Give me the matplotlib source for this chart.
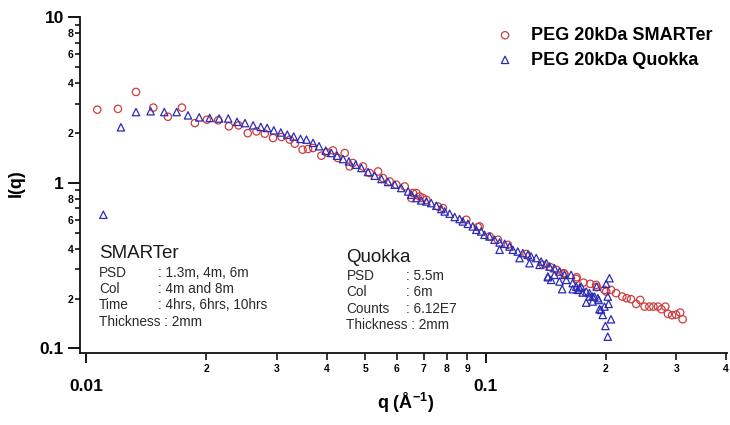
import numpy as np
import matplotlib
matplotlib.use("Agg")
import matplotlib.pyplot as plt
from matplotlib.ticker import LogLocator, FuncFormatter, FixedLocator

plt.rcParams['font.family'] = ['Liberation Sans', 'DejaVu Sans']
plt.rcParams['mathtext.fontset'] = 'custom'
plt.rcParams['mathtext.rm'] = 'Liberation Sans'
plt.rcParams['mathtext.bf'] = 'Liberation Sans:bold'

# ---- data ----
q_smarter = [0.01067, 0.01202, 0.01334, 0.01474, 0.01603, 0.01738, 0.01873, 0.02007,
             0.02142, 0.02278, 0.02409, 0.0254, 0.02671, 0.02802, 0.02939, 0.03085,
             0.03236, 0.03331, 0.03483, 0.03595, 0.0370, 0.03882, 0.0400, 0.0415,
             0.04266, 0.04442, 0.04571, 0.04656, 0.04932, 0.05129, 0.05383, 0.05534,
             0.05754, 0.0598, 0.06274, 0.0652, 0.0658, 0.0671, 0.0684, 0.0697, 0.0711,
             0.0760, 0.0782, 0.0895, 0.0957, 0.0966, 0.1023, 0.1074, 0.1137, 0.1265,
             0.139, 0.1452, 0.1507, 0.1567, 0.1576, 0.1686, 0.169, 0.1758, 0.1828,
             0.1891, 0.1897, 0.1984, 0.2004, 0.206, 0.2122, 0.2198, 0.2255, 0.2312,
             0.2382, 0.2438, 0.250, 0.257, 0.263, 0.270, 0.2754, 0.2818, 0.286, 0.293,
             0.2997, 0.307, 0.3113]
i_smarter = [2.76, 2.79, 3.53, 2.84, 2.50, 2.84, 2.29, 2.40,
             2.38, 2.19, 2.22, 1.99, 2.04, 1.977, 1.862, 1.888,
             1.82, 1.721, 1.582, 1.598, 1.62, 1.456, 1.524, 1.567,
             1.41, 1.511, 1.254, 1.315, 1.254, 1.144, 1.17, 1.067,
             1.018, 0.973, 0.950, 0.808, 0.867, 0.867, 0.826, 0.808, 0.789,
             0.719, 0.703, 0.598, 0.540, 0.545, 0.474, 0.453, 0.422, 0.372,
             0.3195, 0.3096, 0.298, 0.2848, 0.2817, 0.263, 0.269, 0.2497, 0.2453,
             0.242, 0.2343, 0.2257, 0.2205, 0.2257, 0.2157, 0.2056, 0.2011, 0.1983,
             0.1857, 0.1963, 0.1789, 0.1789, 0.1789, 0.1789, 0.1725, 0.1789, 0.1616, 0.1587,
             0.160, 0.1646, 0.150]

q_quokka = [0.01105, 0.01223, 0.01334, 0.01451, 0.0157, 0.01686, 0.0180, 0.0192,
            0.0204, 0.02154, 0.0227, 0.02388, 0.0250, 0.0262, 0.02738, 0.0284,
            0.02951, 0.03073, 0.0319, 0.0331, 0.03442, 0.03563, 0.0370, 0.0383,
            0.0398, 0.0411, 0.0425, 0.0440, 0.0455, 0.0473, 0.0489, 0.0508,
            0.0528, 0.0549, 0.0570, 0.05925, 0.0615, 0.0640, 0.0652, 0.0671,
            0.0690, 0.0711, 0.0731, 0.0753, 0.0775, 0.0790, 0.0813, 0.0837,
            0.0861, 0.0877, 0.0903, 0.0929, 0.0948, 0.0975, 0.0994, 0.1023,
            0.1053, 0.1084, 0.1084, 0.1116, 0.1148, 0.1170, 0.1204, 0.1216, 0.1239,
            0.1276, 0.1288, 0.130, 0.1339, 0.1365, 0.1377, 0.1419, 0.1432, 0.1432,
            0.1445, 0.1459, 0.1487, 0.1487, 0.1531, 0.1531, 0.1555, 0.1576, 0.1592,
            0.1637, 0.1652, 0.1652, 0.1686, 0.1701, 0.1718, 0.1735, 0.175, 0.1786,
            0.1786, 0.182, 0.182, 0.1854, 0.1854, 0.1873, 0.1897, 0.191, 0.1919,
            0.1928, 0.1945, 0.1964, 0.1984, 0.1995, 0.2004, 0.2022, 0.2022, 0.2032,
            0.2042, 0.206]
i_quokka = [0.641, 2.16, 2.67, 2.70, 2.67, 2.67, 2.55, 2.48,
            2.46, 2.44, 2.44, 2.33, 2.29, 2.22, 2.17, 2.14,
            2.07, 2.01, 1.95, 1.90, 1.84, 1.82, 1.74, 1.66,
            1.56, 1.512, 1.456, 1.39, 1.345, 1.285, 1.227, 1.16,
            1.102, 1.053, 1.01, 0.973, 0.929, 0.886, 0.846, 0.808,
            0.782, 0.771, 0.754, 0.726, 0.694, 0.671, 0.650, 0.621,
            0.604, 0.584, 0.565, 0.545, 0.520, 0.508, 0.485, 0.474,
            0.453, 0.436, 0.394, 0.428, 0.412, 0.394, 0.3845, 0.351, 0.376,
            0.367, 0.327, 0.359, 0.351, 0.3195, 0.3345, 0.327, 0.269, 0.272,
            0.312, 0.2594, 0.305, 0.278, 0.291, 0.2534, 0.228, 0.278, 0.2594,
            0.278, 0.228, 0.2477, 0.236, 0.2257, 0.231, 0.236, 0.2175, 0.189,
            0.2205, 0.2056, 0.2157, 0.192, 0.2056, 0.2056, 0.236, 0.2011, 0.196,
            0.1725, 0.171, 0.1594, 0.1789, 0.1367, 0.2453, 0.2056, 0.1178, 0.1857,
            0.2655, 0.150]

series_labels = ['PEG 20kDa SMARTer', 'PEG 20kDa Quokka']

W, H = 730, 425
fig = plt.figure(figsize=(W / 100, H / 100), dpi=100)

def fx(px):
    return px / W

def fy(py):
    return 1 - py / H

ax = fig.add_axes([fx(80), fy(353), fx(727) - fx(80), fy(17) - fy(353)])

red = '#cc3d3d'
blue = '#2b2bb5'
ax.scatter(q_smarter, i_smarter, marker='o', s=28, facecolors='none',
           edgecolors=red, linewidths=0.9, label=series_labels[0], zorder=3)
ax.scatter(q_quokka, i_quokka, marker='^', s=28, facecolors='none',
           edgecolors=blue, linewidths=0.9, label=series_labels[1], zorder=4)

ax.set_xscale('log')
ax.set_yscale('log')
ax.set_xlim(0.00966, 0.402)
ax.set_ylim(0.0939, 10.0)

for s in ['top', 'right']:
    ax.spines[s].set_visible(False)
for s in ['left', 'bottom']:
    ax.spines[s].set_linewidth(1.3)
    ax.spines[s].set_color('#111111')

ax.xaxis.set_major_locator(FixedLocator([0.01, 0.1]))
ax.yaxis.set_major_locator(FixedLocator([0.1, 1, 10]))
ax.xaxis.set_minor_locator(LogLocator(base=10, subs=np.arange(2, 10)))
ax.yaxis.set_minor_locator(LogLocator(base=10, subs=np.arange(2, 10)))

maj_fmt = FuncFormatter(lambda v, p: f'{v:g}')

def mant(v):
    e = np.floor(np.log10(v) + 1e-9)
    return int(round(v / 10 ** e))

x_minor_fmt = FuncFormatter(lambda v, p: str(mant(v)))
y_minor_fmt = FuncFormatter(lambda v, p: str(mant(v)) if mant(v) in (2, 4, 6, 8) else '')
ax.xaxis.set_major_formatter(maj_fmt)
ax.yaxis.set_major_formatter(maj_fmt)
ax.xaxis.set_minor_formatter(x_minor_fmt)
ax.yaxis.set_minor_formatter(y_minor_fmt)

ax.tick_params(axis='x', which='major', direction='out', length=7.5, width=1.3,
               pad=11.5, labelsize=12.5)
ax.tick_params(axis='x', which='minor', direction='out', length=5, width=1.1,
               pad=3, labelsize=7.5)
ax.tick_params(axis='y', which='major', direction='out', length=8.5, width=1.3,
               pad=3, labelsize=12.5)
ax.tick_params(axis='y', which='minor', direction='out', length=3.5, width=1.1,
               pad=1, labelsize=7.5)
for lab in ax.get_xticklabels(which='both') + ax.get_yticklabels(which='both'):
    lab.set_fontweight('bold')

fig.text(fx(16.5), fy(183), 'I(q)', rotation=90, ha='center', va='center',
         fontsize=13, fontweight='bold')
fig.text(fx(406), fy(403), r'q (Å$^{\mathbf{-1}}$)', ha='center', va='center',
         fontsize=13, fontweight='bold')

leg = ax.legend(loc='upper left', bbox_to_anchor=(fx(496), fy(27)),
                bbox_transform=fig.transFigure, frameon=False, borderpad=0,
                borderaxespad=0, handlelength=1.0, handletextpad=0.95,
                labelspacing=0.42, prop={'size': 13, 'weight': 'bold'})

# annotations
txt_col = '#2a2a2a'
fig.text(fx(99), fy(254), 'SMARTer', fontsize=13.5, ha='left', va='center', color='#1a1a1a')
sm_keys = ['PSD', 'Col', 'Time']
sm_vals = [': 1.3m, 4m, 6m', ': 4m and 8m', ': 4hrs, 6hrs, 10hrs']
for k, (key, val) in enumerate(zip(sm_keys, sm_vals)):
    yy = 272.7 + k * 16.3
    fig.text(fx(99), fy(yy), key, fontsize=9.8, ha='left', va='center', color=txt_col)
    fig.text(fx(158.5), fy(yy), val, fontsize=9.8, ha='left', va='center', color=txt_col)
fig.text(fx(99), fy(272.7 + 3 * 16.3), 'Thickness : 2mm', fontsize=9.8,
         ha='left', va='center', color=txt_col)

fig.text(fx(346.5), fy(257), 'Quokka', fontsize=13.5, ha='left', va='center', color='#1a1a1a')
qk_keys = ['PSD', 'Col', 'Counts']
qk_vals = [': 5.5m', ': 6m', ': 6.12E7']
for k, (key, val) in enumerate(zip(qk_keys, qk_vals)):
    yy = 276 + k * 16.3
    fig.text(fx(346.5), fy(yy), key, fontsize=9.8, ha='left', va='center', color=txt_col)
    fig.text(fx(405.5), fy(yy), val, fontsize=9.8, ha='left', va='center', color=txt_col)
fig.text(fx(346.5), fy(276 + 3 * 16.3), 'Thickness : 2mm', fontsize=9.8,
         ha='left', va='center', color=txt_col)

fig.savefig('out.png', dpi=100)
